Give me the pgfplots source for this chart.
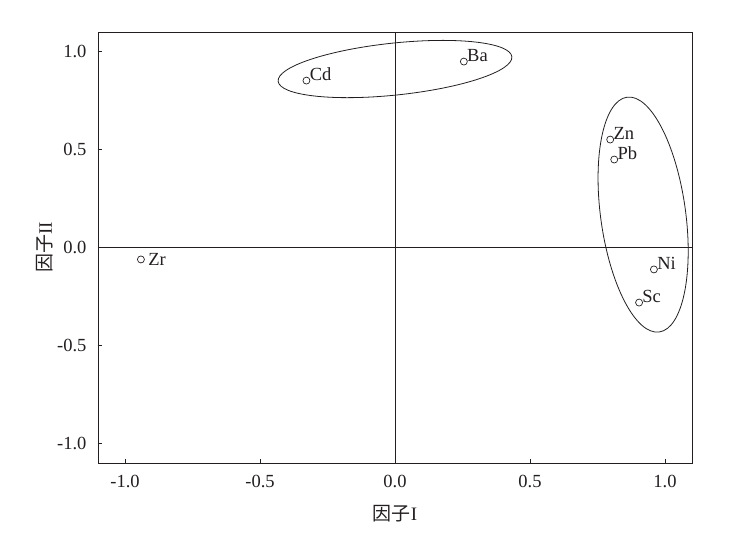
\documentclass[border=0pt]{standalone}
\usepackage{fontspec}
\setmainfont{Liberation Serif}
\newfontfamily\cjk{Noto Sans CJK SC}
\usepackage{pgfplots}
\pgfplotsset{compat=1.18}
\definecolor{ink}{HTML}{231F20}
\begin{document}
\begin{tikzpicture}
\useasboundingbox (-98bp,-72bp) rectangle (638bp,463bp);
\begin{axis}[
  at={(0,0)}, anchor=south west,
  scale only axis, width=594bp, height=431bp,
  xmin=-1.1, xmax=1.1, ymin=-1.1, ymax=1.1,
  axis line style={ink, line width=0.8pt},
  xtick={-1,-0.5,0,0.5,1}, ytick={-1,-0.5,0,0.5,1},
  tick align=inside, major tick length=4bp,
  xtick pos=bottom, ytick pos=left,
  tick style={ink, line width=0.6pt},
  /pgf/number format/assume math mode=true,
  /pgf/number format/.cd, fixed, fixed zerofill, precision=1, /pgfplots/.cd,
  ticklabel style={font=\fontsize{18.5bp}{20bp}\selectfont, text=ink},
  xticklabel style={yshift=-9bp},
  yticklabel style={xshift=-8bp},
  xlabel={\cjk 因子\rmfamily I},
  ylabel={\cjk 因子\rmfamily II},
  label style={font=\fontsize{19bp}{21bp}\selectfont, text=ink},
  xlabel style={yshift=-10bp},
  ylabel style={yshift=-3bp},
  clip=false,
]
\draw[ink, line width=0.7pt] (axis cs:0,-1.1) -- (axis cs:0,1.1);
\draw[ink, line width=0.7pt] (axis cs:-1.1,0) -- (axis cs:1.1,0);
\addplot[only marks, mark=o, mark size=3.5bp, ink, line width=0.7pt,
  nodes near coords, point meta=explicit symbolic,
  every node near coord/.style={anchor=south west, inner sep=1bp, xshift=2bp, yshift=-1.5bp, font=\fontsize{18.5bp}{20bp}\selectfont, text=ink}]
  table[meta=label] {
x y label
-0.328 0.852 Cd
0.255 0.949 Ba
0.797 0.551 Zn
0.812 0.449 Pb
0.959 -0.112 Ni
0.904 -0.281 Sc
};
\addplot[only marks, mark=o, mark size=3.5bp, ink, line width=0.7pt,
  nodes near coords, point meta=explicit symbolic,
  every node near coord/.style={anchor=west, inner sep=1bp, xshift=6bp, yshift=0bp, font=\fontsize{18.5bp}{20bp}\selectfont, text=ink}]
  table[meta=label] {
x y label
-0.941 -0.061 Zr
};
\draw[ink, line width=0.8pt] (axis cs:0.0,0.911) ellipse[x radius=117.5bp, y radius=26bp, rotate=6];
\draw[ink, line width=0.8pt] (axis cs:0.919,0.168) ellipse[x radius=118.5bp, y radius=42.5bp, rotate=97.8];
\end{axis}
\end{tikzpicture}
\end{document}
